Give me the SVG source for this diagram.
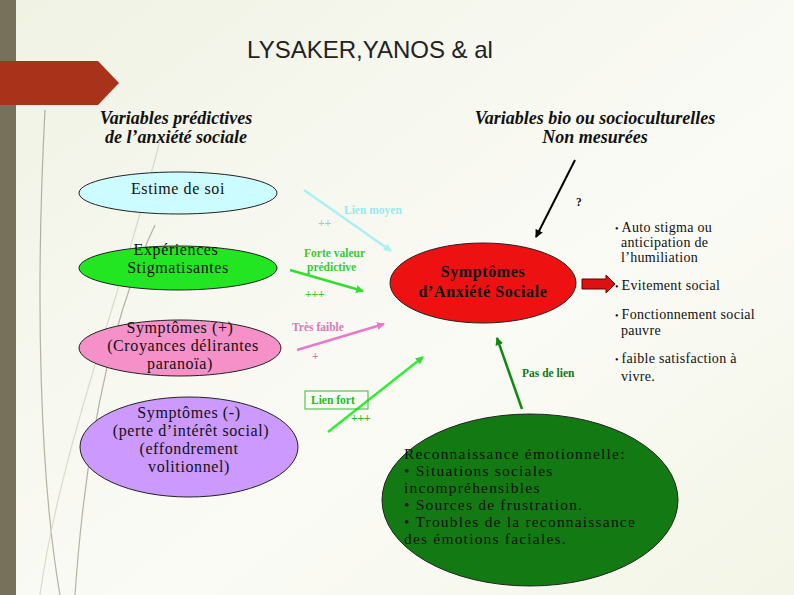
<svg xmlns="http://www.w3.org/2000/svg" width="794" height="595" viewBox="0 0 794 595">
<defs>
<linearGradient id="bg" x1="0" y1="0" x2="1" y2="1">
<stop offset="0" stop-color="#f0f2e4"/><stop offset="0.6" stop-color="#fbfbf6"/><stop offset="1" stop-color="#f3f5e6"/>
</linearGradient>
<marker id="mBlack" markerWidth="8" markerHeight="8" refX="7" refY="4" orient="auto" markerUnits="userSpaceOnUse" viewBox="0 0 8 8"><path d="M0,0 L8,4 L0,8 z" fill="#000"/></marker>
<marker id="mCyan" markerWidth="8" markerHeight="8" refX="7" refY="4" orient="auto" markerUnits="userSpaceOnUse" viewBox="0 0 8 8"><path d="M0,0 L8,4 L0,8 z" fill="#aaf0f4"/></marker>
<marker id="mGreen" markerWidth="8" markerHeight="8" refX="7" refY="4" orient="auto" markerUnits="userSpaceOnUse" viewBox="0 0 8 8"><path d="M0,0 L8,4 L0,8 z" fill="#33dd33"/></marker>
<marker id="mPink" markerWidth="8" markerHeight="8" refX="7" refY="4" orient="auto" markerUnits="userSpaceOnUse" viewBox="0 0 8 8"><path d="M0,0 L8,4 L0,8 z" fill="#ee77cc"/></marker>
<marker id="mDark" markerWidth="8" markerHeight="8" refX="7" refY="4" orient="auto" markerUnits="userSpaceOnUse" viewBox="0 0 8 8"><path d="M0,0 L8,4 L0,8 z" fill="#118811"/></marker>
<style>
.node{stroke:#222;stroke-width:1}
.t{font-family:"Liberation Serif",serif;font-size:16px;letter-spacing:0.6px;fill:#111;text-anchor:middle}
.h{font-family:"Liberation Serif",serif;font-size:18px;font-weight:bold;font-style:italic;fill:#111;text-anchor:middle}
.lab{font-family:"Liberation Serif",serif;font-size:11.5px;font-weight:bold}
.r{font-family:"Liberation Serif",serif;font-size:14px;fill:#111;letter-spacing:0.3px}
</style>
</defs>
<rect width="794" height="595" fill="url(#bg)"/>
<rect x="0" y="0" width="16" height="595" fill="#77705a"/>
<g fill="none" stroke="#8a8370" stroke-width="1.2" opacity="0.6">
<path d="M45,110 C35,300 40,480 60,595"/>
<path d="M155,225 C110,320 85,450 75,595"/>
</g>
<g fill="none" stroke="#d8dbc8" stroke-width="1.2">
<path d="M160,140 C120,300 60,450 40,595"/>
</g>
<path d="M0,61 L98,61 L119,83 L98,105 L0,105 z" fill="#a8321a"/>
<text x="370" y="58" font-family="Liberation Sans,Arial,sans-serif" font-size="24" fill="#222" text-anchor="middle">LYSAKER,YANOS &amp; al</text>
<text class="h" x="176" y="124">Variables prédictives</text>
<text class="h" x="176" y="143">de l’anxiété sociale</text>
<text class="h" x="595" y="124">Variables bio ou socioculturelles</text>
<text class="h" x="595" y="143">Non mesurées</text>

<g id="connectors" stroke-width="2.5" fill="none">
<line x1="575" y1="160" x2="536" y2="237" stroke="#000" stroke-width="2" marker-end="url(#mBlack)"/>
<line x1="304" y1="190" x2="391" y2="251" stroke="#aaf0f4" marker-end="url(#mCyan)"/>
<line x1="290" y1="270" x2="363" y2="291" stroke="#33dd33" marker-end="url(#mGreen)"/>
<line x1="297" y1="350" x2="384" y2="324" stroke="#ee77cc" marker-end="url(#mPink)"/>
<line x1="328" y1="432" x2="423" y2="357" stroke="#33ee33" marker-end="url(#mGreen)"/>
<line x1="522" y1="409" x2="497" y2="338" stroke="#118811" marker-end="url(#mDark)"/>
<path d="M582,279 L606,279 L606,275 L615,284 L606,293 L606,289 L582,289 z" fill="#dd1111" stroke="#660000" stroke-width="1"/>
</g>
<g id="labels">
<text class="lab" x="576" y="206" fill="#111">?</text>
<text class="lab" x="344" y="214" fill="#99e8ee">Lien moyen</text>
<text class="lab" x="318" y="227" fill="#77d8d8" font-weight="normal">++</text>
<text class="lab" x="304" y="257" fill="#33cc33">Forte valeur</text>
<text class="lab" x="307" y="271" fill="#33cc33">prédictive</text>
<text class="lab" x="305" y="298" fill="#33cc33">+++</text>
<text class="lab" x="292" y="331" fill="#dd77bb">Très faible</text>
<text class="lab" x="312" y="360" fill="#dd77bb" font-weight="normal">+</text>
<rect x="305" y="391" width="63" height="18" fill="none" stroke="#33bb33" stroke-width="1"/>
<text class="lab" x="311" y="404" fill="#22bb22">Lien fort</text>
<text class="lab" x="351" y="422" fill="#22bb22" font-weight="normal">+++</text>
<text class="lab" x="522" y="377" fill="#117711">Pas de lien</text>
</g>

<g id="estime"><ellipse class="node" cx="178" cy="193" rx="99" ry="21" fill="#ccfcff"/><text class="t" x="178" y="194">Estime de soi</text></g>
<g id="experiences"><ellipse class="node" cx="178" cy="268" rx="99" ry="22" fill="#22e622"/><text class="t" x="176" y="255">Expériences</text><text class="t" x="178" y="273">Stigmatisantes</text></g>
<g id="symp-plus"><ellipse class="node" cx="180" cy="348" rx="101" ry="28" fill="#f590c8"/><text class="t" x="180" y="333">Symptômes (+)</text><text class="t" x="183" y="351">(Croyances délirantes</text><text class="t" x="180" y="369">paranoïa)</text></g>
<g id="symp-moins"><ellipse class="node" cx="189" cy="447" rx="109" ry="50" fill="#cc99ff"/><text class="t" x="189" y="418">Symptômes (-)</text><text class="t" x="191" y="436">(perte d’intérêt social)</text><text class="t" x="189" y="454">(effondrement</text><text class="t" x="189" y="472">volitionnel)</text></g>
<g id="anxiete"><ellipse class="node" cx="483" cy="283" rx="93" ry="40" fill="#ee1111"/><text class="t" x="483" y="277" font-weight="bold" font-size="17" fill="#330000">Symptômes</text><text class="t" x="483" y="297" font-weight="bold" font-size="17" fill="#330000">d’Anxiété Sociale</text></g>
<g id="reconnaissance"><ellipse class="node" cx="530" cy="500" rx="148" ry="86" fill="#137a13"/>
<g class="t" style="text-anchor:start;font-size:15.5px;letter-spacing:1.2px">
<text x="404" y="459">Reconnaissance émotionnelle:</text>
<text x="404" y="476">• Situations sociales</text>
<text x="404" y="493">incompréhensibles</text>
<text x="404" y="510">• Sources de frustration.</text>
<text x="404" y="527">• Troubles de la reconnaissance</text>
<text x="404" y="544">des émotions faciales.</text>
</g></g>
<g id="liste">
<text class="r" x="615" y="232"><tspan font-size="10">• </tspan>Auto stigma ou</text>
<text class="r" x="621" y="247">anticipation de</text>
<text class="r" x="621" y="262">l’humiliation</text>
<text class="r" x="615" y="290"><tspan font-size="10">• </tspan>Evitement social</text>
<text class="r" x="615" y="319"><tspan font-size="10">• </tspan>Fonctionnement social</text>
<text class="r" x="621" y="335">pauvre</text>
<text class="r" x="615" y="363"><tspan font-size="10">• </tspan>faible satisfaction à</text>
<text class="r" x="621" y="381">vivre.</text>
</g>
</svg>
